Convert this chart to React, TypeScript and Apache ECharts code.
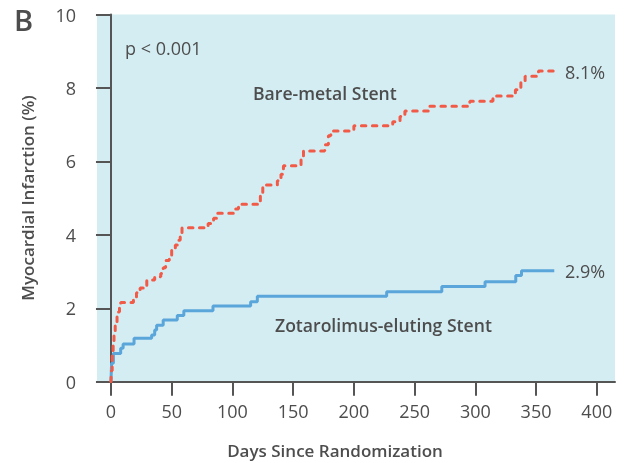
import React, { useEffect, useRef } from "react";
import * as echarts from "echarts";

const xTickValues = [0, 50, 100, 150, 200, 250, 300, 350, 400];

// Bare-metal Stent (cumulative MI %, step changes)
const bmsDays = [0, 0.3, 1, 1.8, 2.5, 3.5, 5, 7, 8, 18.5, 21, 24, 29.5, 36, 41, 43, 45, 48, 50, 53, 55, 57, 58.5, 80, 84.5, 87, 102.5, 105, 123, 125, 137, 140, 142, 156.5, 158.5, 176, 179, 181, 200, 232, 238, 242, 261.5, 295.5, 314.5, 333, 337.5, 341, 352, 367];
const bmsRate = [0, 0.3, 0.8, 1.05, 1.3, 1.6, 1.9, 2.03, 2.16, 2.3, 2.42, 2.55, 2.77, 2.86, 2.95, 3.1, 3.3, 3.4, 3.59, 3.72, 3.85, 4.0, 4.19, 4.31, 4.45, 4.59, 4.7, 4.83, 5.1, 5.36, 5.47, 5.65, 5.88, 6.05, 6.28, 6.45, 6.7, 6.83, 6.97, 7.08, 7.22, 7.37, 7.5, 7.64, 7.78, 7.95, 8.15, 8.32, 8.46, 8.46];

// Zotarolimus-eluting Stent
const zesDays = [0, 0.5, 2, 8, 10, 19, 33.5, 36, 37.6, 43, 54.6, 60, 84, 115, 120.5, 227, 272.4, 308, 333.3, 338, 365];
const zesRate = [0, 0.5, 0.77, 0.91, 1.03, 1.18, 1.27, 1.41, 1.54, 1.68, 1.8, 1.93, 2.06, 2.18, 2.33, 2.45, 2.59, 2.72, 2.89, 3.02, 3.02];

const FONT = "Open Sans";
const TXT = "#4d4d4d";
const AX = "#555555";

export default function App() {
  const ref = useRef<HTMLDivElement>(null);
  useEffect(() => {
    const chart = echarts.init(ref.current!, null, { renderer: "svg" });
    const bms = bmsDays.map((d, i) => [d, bmsRate[i]]);
    const zes = zesDays.map((d, i) => [d, zesRate[i]]);
    chart.setOption({
      animation: false,
      grid: { left: 97, right: 12, top: 14.5, bottom: 81.3, show: true, backgroundColor: "#d4edf3", borderWidth: 0 },
      xAxis: {
        type: "value",
        min: -11.5,
        max: 415,
        axisLine: { show: true, onZero: false, lineStyle: { color: AX, width: 2 } },
        axisTick: { show: true, customValues: xTickValues, length: 14, lineStyle: { color: AX, width: 2 } },
        axisLabel: { customValues: xTickValues, margin: 20, fontSize: 18, color: TXT, fontFamily: FONT },
        splitLine: { show: false },
      },
      yAxis: {
        type: "value",
        min: 0,
        max: 10,
        interval: 2,
        axisLine: { show: true, lineStyle: { color: AX, width: 2 } },
        axisTick: { show: true, length: 15, lineStyle: { color: AX, width: 2 } },
        axisLabel: { margin: 21, fontSize: 18, color: TXT, fontFamily: FONT },
        splitLine: { show: false },
      },
      series: [
        {
          name: "Zotarolimus-eluting Stent",
          type: "line",
          step: "end",
          symbol: "none",
          data: zes,
          lineStyle: { color: "#5aa5da", width: 3 },
          z: 2,
        },
        {
          name: "Bare-metal Stent",
          type: "line",
          step: "end",
          symbol: "none",
          data: bms,
          lineStyle: { color: "#f05a47", width: 3, type: [4.5, 6.5], cap: "round" },
          z: 3,
        },
      ],
      graphic: [
        { type: "text", left: 14, top: 5, style: { text: "B", fontSize: 29, fontWeight: 600, fill: TXT, fontFamily: FONT } },
        { type: "text", x: 125, y: 48, style: { text: "p < 0.001", fontSize: 18, fill: TXT, fontFamily: FONT, textVerticalAlign: "middle" } },
        { type: "text", x: 253, y: 93, style: { text: "Bare-metal Stent", fontSize: 17.6, fontWeight: 600, fill: TXT, fontFamily: FONT, textVerticalAlign: "middle" } },
        { type: "text", x: 275, y: 325, style: { text: "Zotarolimus-eluting Stent", fontSize: 17.6, fontWeight: 600, fill: TXT, fontFamily: FONT, textVerticalAlign: "middle" } },
        { type: "text", x: 565, y: 72, style: { text: "8.1%", fontSize: 18, fill: TXT, fontFamily: FONT, textVerticalAlign: "middle" } },
        { type: "text", x: 565, y: 271, style: { text: "2.9%", fontSize: 18, fill: TXT, fontFamily: FONT, textVerticalAlign: "middle" } },
        { type: "text", x: 27, y: 198, rotation: Math.PI / 2, style: { text: "Myocardial Infarction (%)", fontSize: 17, fontWeight: 600, fill: TXT, fontFamily: FONT, textAlign: "center", textVerticalAlign: "middle" } },
        { type: "text", x: 335, y: 450, style: { text: "Days Since Randomization", fontSize: 17, fontWeight: 600, fill: TXT, fontFamily: FONT, textAlign: "center", textVerticalAlign: "middle" } },
      ],
    });
    return () => chart.dispose();
  }, []);
  return <div ref={ref} style={{ position: "fixed", left: 0, top: 0, width: 627, height: 463 }} />;
}
